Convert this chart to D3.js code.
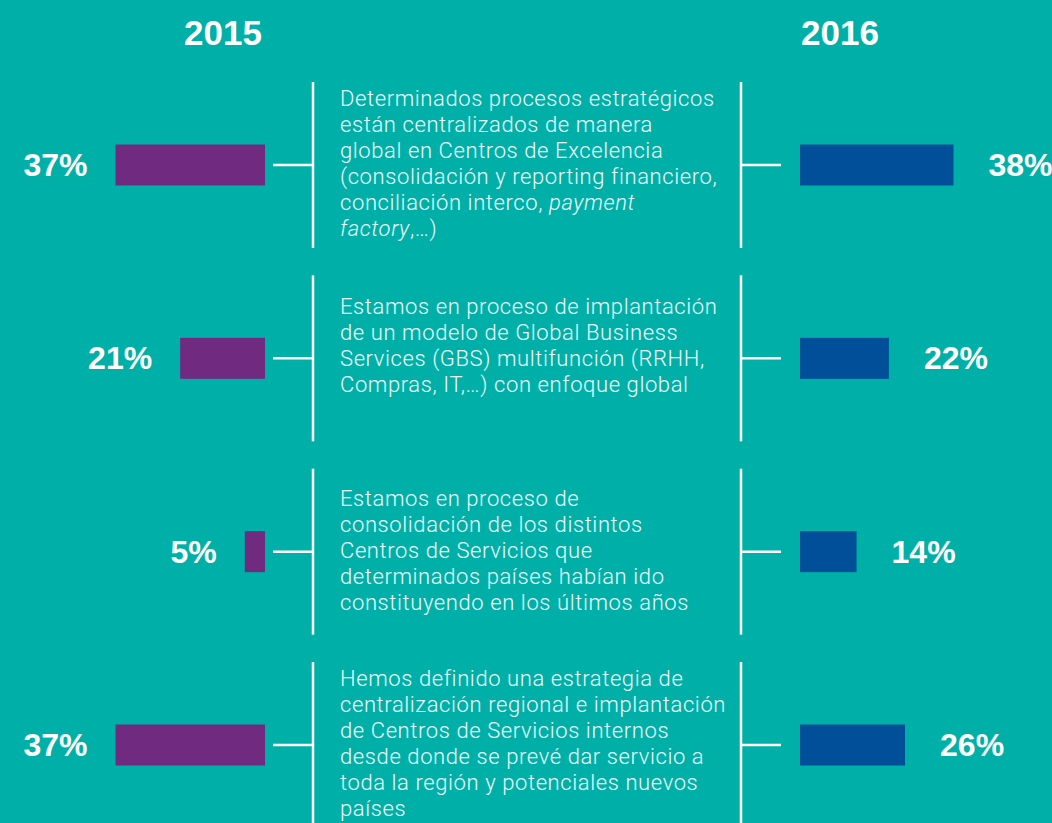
<!DOCTYPE html>
<html lang="es">
<head>
<meta charset="utf-8">
<script src="https://cdn.jsdelivr.net/npm/d3@7"></script>
<style>
  html, body { margin: 0; padding: 0; background: #00b0a8; }
  svg { display: block; }
</style>
</head>
<body>
<svg id="chart" width="1052" height="823"></svg>
<script>
// Years compared
const years = ["2015", "2016"];

// Survey statements (one per row); *...* marks italic words
const categories = [
  ["Determinados procesos estratégicos",
   "están centralizados de manera",
   "global en Centros de Excelencia",
   "(consolidación y reporting financiero,",
   "conciliación interco, *payment*",
   "*factory*,…)"],
  ["Estamos en proceso de implantación",
   "de un modelo de Global Business",
   "Services (GBS) multifunción (RRHH,",
   "Compras, IT,…) con enfoque global"],
  ["Estamos en proceso de",
   "consolidación de los distintos",
   "Centros de Servicios que",
   "determinados países habían ido",
   "constituyendo en los últimos años"],
  ["Hemos definido una estrategia de",
   "centralización regional e implantación",
   "de Centros de Servicios internos",
   "desde donde se prevé dar servicio a",
   "toda la región y potenciales nuevos",
   "países"]
];

// Share of respondents (%)
const values2015 = [37, 21, 5, 37];
const values2016 = [38, 22, 14, 26];

// ---- layout ----
const svg = d3.select("#chart");
const W = 1052, H = 823;
const colors = { bg: "#00b0a8", y2015: "#702a80", y2016: "#004f98", line: "#ffffff", text: "#eef9f8" };

svg.append("rect").attr("width", W).attr("height", H).attr("fill", colors.bg);

const rowIdx = d3.range(categories.length);
const y = d3.scalePoint().domain(rowIdx).range([165, 745]);
const x = d3.scaleLinear().domain([0, 100]).range([0, 404]);

const barH = 41;
const leftEnd = 265;     // right edge of 2015 bars
const rightStart = 800;  // left edge of 2016 bars
const vLeft = 313, vRight = 741;
const halfSeg = 83;
const lineH = 26;
const textX = 340;
const firstBaseline = [24, 39, 37, 24]; // offset of first text line from segment top

const boldFont = "'Liberation Sans', Arial, Helvetica, sans-serif";
const lightFont = "Roboto, 'Open Sans', sans-serif";

// Year headers
svg.selectAll("text.year")
  .data(years)
  .join("text")
  .attr("class", "year")
  .attr("x", (d, i) => i === 0 ? 223 : 840)
  .attr("y", 45)
  .attr("text-anchor", "middle")
  .attr("fill", "#ffffff")
  .attr("font-family", boldFont)
  .attr("font-weight", 700)
  .attr("font-size", 35)
  .text(d => d);

const rows = svg.selectAll("g.row")
  .data(rowIdx)
  .join("g")
  .attr("class", "row");

// Vertical brackets and connectors
[vLeft, vRight].forEach(vx => {
  rows.append("line")
    .attr("x1", vx).attr("x2", vx)
    .attr("y1", i => y(i) - halfSeg)
    .attr("y2", i => y(i) + halfSeg)
    .attr("stroke", colors.line).attr("stroke-width", 2.5);
});
rows.append("line")
  .attr("x1", 273).attr("x2", vLeft)
  .attr("y1", i => y(i)).attr("y2", i => y(i))
  .attr("stroke", colors.line).attr("stroke-width", 2.5);
rows.append("line")
  .attr("x1", vRight).attr("x2", 781)
  .attr("y1", i => y(i)).attr("y2", i => y(i))
  .attr("stroke", colors.line).attr("stroke-width", 2.5);

// 2015 bars (grow leftwards)
rows.append("rect")
  .attr("x", i => leftEnd - x(values2015[i]))
  .attr("y", i => y(i) - barH / 2)
  .attr("width", i => x(values2015[i]))
  .attr("height", barH)
  .attr("fill", colors.y2015);

// 2016 bars (grow rightwards)
rows.append("rect")
  .attr("x", rightStart)
  .attr("y", i => y(i) - barH / 2)
  .attr("width", i => x(values2016[i]))
  .attr("height", barH)
  .attr("fill", colors.y2016);

// Value labels
rows.append("text")
  .attr("x", i => leftEnd - x(values2015[i]) - 28)
  .attr("y", i => y(i) + 11)
  .attr("text-anchor", "end")
  .attr("fill", "#ffffff")
  .attr("font-family", boldFont).attr("font-weight", 700).attr("font-size", 32)
  .text(i => values2015[i] + "%");
rows.append("text")
  .attr("x", i => rightStart + x(values2016[i]) + 35)
  .attr("y", i => y(i) + 11)
  .attr("text-anchor", "start")
  .attr("fill", "#ffffff")
  .attr("font-family", boldFont).attr("font-weight", 700).attr("font-size", 32)
  .text(i => values2016[i] + "%");

// Statement text, one <text> per line with italic runs as tspans
rows.each(function(i) {
  const g = d3.select(this);
  const top = y(i) - halfSeg + firstBaseline[i];
  categories[i].forEach((line, k) => {
    const t = g.append("text")
      .attr("x", textX)
      .attr("y", top + k * lineH)
      .attr("fill", colors.text)
      .attr("font-family", lightFont)
      .attr("font-weight", 300)
      .attr("font-size", 22)
      .attr("letter-spacing", 0.6);
    line.split("*").forEach((p, j) => {
      if (!p) return;
      const ts = t.append("tspan").text(p);
      if (j % 2 === 1) ts.attr("font-style", "italic");
    });
  });
});
</script>
</body>
</html>
